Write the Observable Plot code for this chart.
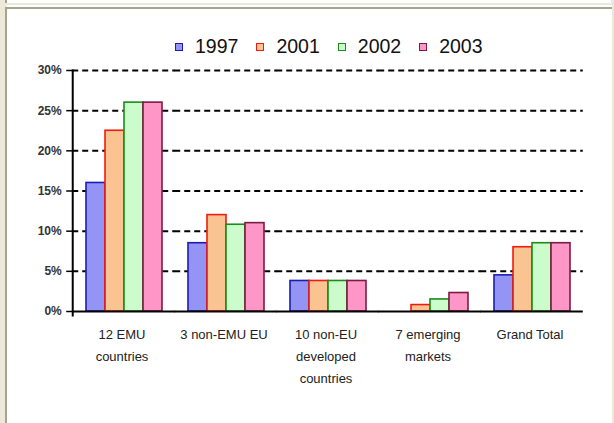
<!DOCTYPE html>
<html>
<head>
<meta charset="utf-8">
<script src="https://cdn.jsdelivr.net/npm/d3@7"></script>
<script src="https://cdn.jsdelivr.net/npm/@observablehq/plot@0.6"></script>
<style>
  html, body { margin: 0; padding: 0; }
  body { width: 614px; height: 423px; overflow: hidden; background: #ece9d8; position: relative;
         font-family: "Liberation Sans", Arial, sans-serif; }
  /* window chrome around the chart */
  .upper { position: absolute; left: 5px; top: 0; width: 604px; height: 3px; background: #fff;
           border-left: 2px solid #a5a493; }
  .panel { position: absolute; left: 5px; top: 7px; right: 2px; bottom: -4px; background: #fff;
           border-top: 2px solid #a5a493; border-left: 2px solid #a5a493; }
  .gap { position: absolute; left: 7px; right: 2px; top: 5px; height: 2px; background: #fff; }
  #chart { position: absolute; left: 0; top: 0; }
  #legend { position: absolute; top: 35px; left: 175px; display: flex; align-items: center;
            font-size: 19.5px; color: #111; white-space: nowrap; }
  #legend .item { display: flex; align-items: center; margin-right: 18px; }
  #legend .sw { width: 6px; height: 6px; border: 1.5px solid; margin-right: 12px; }
</style>
</head>
<body>
<div class="upper"></div>
<div class="gap"></div>
<div class="panel"></div>
<div id="chart"></div>
<div id="legend"></div>
<script>
// Share of holdings by region, in percent
const categories = ["12 EMU countries", "3 non-EMU EU", "10 non-EU developed countries", "7 emerging markets", "Grand Total"];
const categoryLabels = ["12 EMU\ncountries", "3 non-EMU EU", "10 non-EU\ndeveloped\ncountries", "7 emerging\nmarkets", "Grand Total"];
const years = ["1997", "2001", "2002", "2003"];
const share1997 = [16.0, 8.5, 3.8, null, 4.5];
const share2001 = [22.5, 12.0, 3.8, 0.8, 8.0];
const share2002 = [26.0, 10.8, 3.8, 1.5, 8.5];
const share2003 = [26.0, 11.0, 3.8, 2.3, 8.5];
const yTicks = [0, 5, 10, 15, 20, 25, 30];

const fills = ["#9494f4", "#f9c392", "#ccfccc", "#ff96c8"];
const strokes = ["#1c1cb4", "#ee1c10", "#1a8c1a", "#7a1c40"];

const seriesValues = [share1997, share2001, share2002, share2003];
const rows = [];
years.forEach((year, i) => {
  categories.forEach((cat, j) => {
    const v = seriesValues[i][j];
    if (v != null) rows.push({category: cat, year, value: v});
  });
});
const labelOf = new Map(categories.map((c, i) => [c, categoryLabels[i]]));

// layout: groups separated by a gap; half a gap on each outer side
const W = 614, H = 423;
const mLeft = 72, mRight = 31, mTop = 70, mBottom = 112;
const gapRatio = 0.25;
const step = (W - mLeft - mRight) / categories.length;
const halfGap = step * gapRatio / 2;

const chart = Plot.plot({
  width: W,
  height: H,
  marginTop: mTop,
  marginBottom: mBottom,
  marginLeft: mLeft,
  marginRight: mRight,
  style: {background: "transparent", fontFamily: "'Liberation Sans', Arial, sans-serif"},
  fx: {domain: categories, paddingInner: gapRatio, paddingOuter: gapRatio / 2, label: null},
  x: {domain: years, padding: 0, axis: null},
  y: {domain: [0, 30], label: null},
  color: {domain: years, range: fills},
  marks: [
    // dashed gridlines, each facet's piece stretched across the gaps
    Plot.ruleY(yTicks.filter(d => d > 0), {
      stroke: "#000", strokeWidth: 2, strokeDasharray: "6,4",
      insetLeft: -halfGap, insetRight: -halfGap
    }),
    Plot.barY(rows, {
      fx: "category", x: "year", y: "value",
      fill: "year",
      stroke: d => strokes[years.indexOf(d.year)],
      strokeWidth: 1.6
    }),
    Plot.ruleY([0], {stroke: "#000", strokeWidth: 2, insetLeft: -halfGap, insetRight: -halfGap}),
    Plot.frame({anchor: "left", facetAnchor: "left", stroke: "#000", strokeWidth: 2,
                insetLeft: -halfGap, insetBottom: -4}),
    Plot.axisY({
      ticks: yTicks, tickSize: 6, tickPadding: 5, fontSize: 12, fontWeight: "bold", fill: "#333",
      stroke: "#000", strokeWidth: 1.5, tickFormat: d => d + "%", label: null, dx: -halfGap
    }),
    Plot.axisFx({
      anchor: "bottom", tickSize: 0, tickPadding: 12, fontSize: 13, lineHeight: 1.7,
      fill: "#222", tickFormat: d => labelOf.get(d), label: null, dx: -2
    })
  ]
});
document.getElementById("chart").appendChild(chart);

// legend built from the same series names and colours
const legend = document.getElementById("legend");
years.forEach((year, i) => {
  const item = document.createElement("div");
  item.className = "item";
  const sw = document.createElement("span");
  sw.className = "sw";
  sw.style.background = fills[i];
  sw.style.borderColor = strokes[i];
  const label = document.createElement("span");
  label.textContent = year;
  item.appendChild(sw);
  item.appendChild(label);
  legend.appendChild(item);
});
</script>
</body>
</html>
